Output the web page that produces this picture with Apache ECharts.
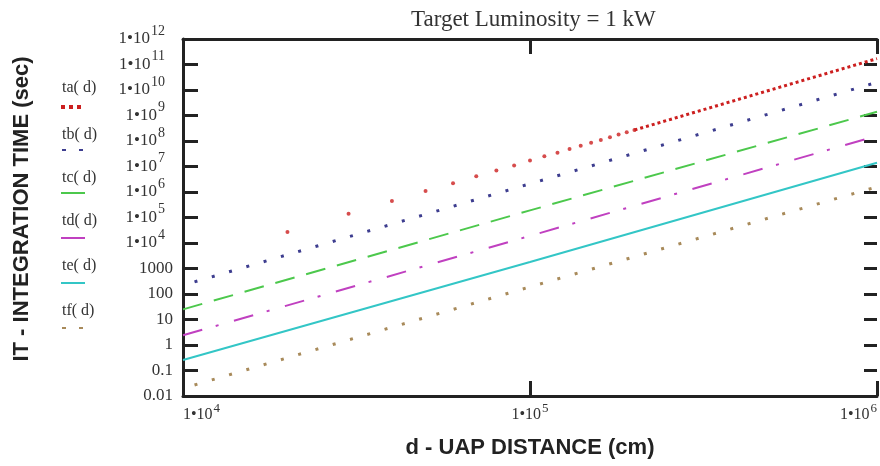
<!DOCTYPE html>
<html>
<head>
<meta charset="utf-8">
<script src="https://cdn.jsdelivr.net/npm/echarts@6/dist/echarts.min.js"></script>
<style>
  html, body { margin: 0; padding: 0; background: #fff; }
  #chart { width: 880px; height: 466px; }
</style>
</head>
<body>
<div id="chart"></div>
<script>
const distance = [1e4, 1e5, 1e6]
// integration time (sec) for each curve
const tb = [220, 2.1e6, 2.0e10]
const tc = [25, 1.9e5, 1.4e9]
const td = [2.4, 1.9e4, 1.6e8]
const te = [0.26, 1.8e3, 1.4e7]
const tf = [0.02, 190, 1.6e6]
// ta: single dots on the left, they get dense to the right
const taDotDistance = [2e4, 3e4, 4e4, 5e4, 6e4, 7e4, 8e4, 9e4, 1e5, 1.1e5, 1.2e5, 1.3e5, 1.4e5, 1.5e5, 1.6e5, 1.7e5, 1.8e5, 1.9e5, 2e5]
const taDotTime = [2.7e4, 1.4e5, 4.4e5, 1.1e6, 2.2e6, 4.1e6, 7.0e6, 1.1e7, 1.7e7, 2.5e7, 3.5e7, 4.9e7, 6.5e7, 8.6e7, 1.1e8, 1.4e8, 1.8e8, 2.2e8, 2.7e8]
const taLineDistance = [2e5, 1e6]
const taLineTime = [2.7e8, 1.7e11]

const xTickLabels = ['1•10^4', '1•10^5', '1•10^6']
const yTickLabels = ['0.01', '0.1', '1', '10', '100', '1000', '1•10^4', '1•10^5', '1•10^6', '1•10^7',
  '1•10^8', '1•10^9', '1•10^10', '1•10^11', '1•10^12']

const serif = '"Liberation Serif", "DejaVu Serif", serif'
const sans = '"Liberation Sans", Arial, sans-serif'
const ink = '#222'
const textInk = '#333'

function pair(xs, ys) {
  return xs.map((x, i) => [x, ys[i]])
}

function powLabel(s) {
  if (s.indexOf('^') < 0) return '{b|' + s + '}'
  let p = s.split('^')
  return '{b|' + p[0] + '}{s|' + p[1] + '}'
}

const xRich = {
  b: { fontFamily: serif, fontSize: 16, color: textInk },
  s: { fontFamily: serif, fontSize: 13, color: textInk, padding: [0, 0, 12, 1] }
}
const yRich = {
  b: { fontFamily: serif, fontSize: 17, color: textInk },
  s: { fontFamily: serif, fontSize: 14, color: textInk, padding: [0, 8, 16, 1] }
}

let chart = echarts.init(document.getElementById('chart'), null, { renderer: 'canvas' })

const frameLine = { onZero: false, lineStyle: { color: ink, width: 3 } }
const frameTick = { inside: true, length: 15, lineStyle: { color: ink, width: 3 } }

let option = {
  animation: false,
  backgroundColor: '#fff',
  title: {
    text: 'Target Luminosity = 1 kW',
    left: 406,
    top: 3,
    textStyle: { fontFamily: serif, fontSize: 23, fontWeight: 'normal', color: textInk }
  },
  grid: { left: 183, top: 39, right: 0, bottom: 70, containLabel: false },
  xAxis: [
    {
      type: 'log', logBase: 10, min: 1e4, max: 1e6, position: 'bottom',
      axisLine: frameLine, axisTick: frameTick, splitLine: { show: false },
      axisLabel: {
        margin: 6, rich: xRich, alignMinLabel: 'left', alignMaxLabel: 'right',
        formatter: v => powLabel(xTickLabels[Math.round(Math.log10(v)) - 4])
      },
      name: 'd - UAP DISTANCE (cm)', nameLocation: 'middle', nameGap: 41,
      nameTextStyle: { fontFamily: sans, fontSize: 22, fontWeight: 'bold', color: ink }
    },
    {
      type: 'log', logBase: 10, min: 1e4, max: 1e6, position: 'top',
      axisLine: frameLine, axisTick: frameTick, axisLabel: { show: false }, splitLine: { show: false }
    }
  ],
  yAxis: [
    { type: 'log', logBase: 10, min: 0.01, max: 1e12, show: false },
    {
      type: 'value', min: -2, max: 12, interval: 1, position: 'left',
      axisLine: frameLine, axisTick: frameTick, splitLine: { show: false },
      axisLabel: { margin: 10, rich: yRich, formatter: v => powLabel(yTickLabels[v + 2]) }
    },
    {
      type: 'value', min: -2, max: 12, interval: 1, position: 'right',
      axisLine: { show: false, onZero: false },
      axisTick: { inside: true, length: 13, lineStyle: { color: ink, width: 3 } },
      axisLabel: { show: false }, splitLine: { show: false }
    }
  ],
  graphic: [
    {
      type: 'text', x: 22, y: 209, rotation: Math.PI / 2,
      style: { text: 'IT - INTEGRATION TIME (sec)', font: 'bold 22px ' + sans, fill: ink, align: 'center', verticalAlign: 'middle' }
    },
    { type: 'text', left: 62, top: 80, style: { text: 'ta( d)', font: '16px ' + serif, fill: textInk } },
    { type: 'line', shape: { x1: 61, y1: 107, x2: 85, y2: 107 }, style: { stroke: '#cc1f1f', lineWidth: 4, lineDash: [4, 4] } },
    { type: 'text', left: 62, top: 127, style: { text: 'tb( d)', font: '16px ' + serif, fill: textInk } },
    { type: 'line', shape: { x1: 62, y1: 150, x2: 85, y2: 150 }, style: { stroke: '#3d3d8f', lineWidth: 2, lineDash: [4, 13] } },
    { type: 'text', left: 62, top: 170, style: { text: 'tc( d)', font: '16px ' + serif, fill: textInk } },
    { type: 'line', shape: { x1: 61, y1: 193, x2: 85, y2: 193 }, style: { stroke: '#4cc84c', lineWidth: 2 } },
    { type: 'text', left: 62, top: 213, style: { text: 'td( d)', font: '16px ' + serif, fill: textInk } },
    { type: 'line', shape: { x1: 61, y1: 238, x2: 85, y2: 238 }, style: { stroke: '#c040c0', lineWidth: 2 } },
    { type: 'text', left: 62, top: 258, style: { text: 'te( d)', font: '16px ' + serif, fill: textInk } },
    { type: 'line', shape: { x1: 61, y1: 283, x2: 85, y2: 283 }, style: { stroke: '#33c6c6', lineWidth: 2 } },
    { type: 'text', left: 62, top: 303, style: { text: 'tf( d)', font: '16px ' + serif, fill: textInk } },
    { type: 'line', shape: { x1: 62, y1: 328, x2: 85, y2: 328 }, style: { stroke: '#a88a5a', lineWidth: 2, lineDash: [4, 13] } }
  ],
  series: [
    {
      name: 'ta(d)', type: 'scatter', xAxisIndex: 0, yAxisIndex: 0,
      data: pair(taDotDistance, taDotTime), symbol: 'circle', symbolSize: 4,
      itemStyle: { color: '#cc1f1f' }, silent: true
    },
    {
      name: 'ta(d)', type: 'line', xAxisIndex: 0, yAxisIndex: 0,
      data: pair(taLineDistance, taLineTime), showSymbol: false,
      lineStyle: { color: '#cc1f1f', width: 3, type: [3, 3] }, silent: true
    },
    {
      name: 'tb(d)', type: 'line', xAxisIndex: 0, yAxisIndex: 0,
      data: pair(distance, tb), showSymbol: false,
      lineStyle: { color: '#3d3d8f', width: 3, type: [3, 15], dashOffset: -12 }, silent: true
    },
    {
      name: 'tc(d)', type: 'line', xAxisIndex: 0, yAxisIndex: 0,
      data: pair(distance, tc), showSymbol: false,
      lineStyle: { color: '#4cc84c', width: 2, type: [20, 12] }, silent: true
    },
    {
      name: 'td(d)', type: 'line', xAxisIndex: 0, yAxisIndex: 0,
      data: pair(distance, td), showSymbol: false,
      lineStyle: { color: '#c040c0', width: 2, type: [20, 14, 3, 16] }, silent: true
    },
    {
      name: 'te(d)', type: 'line', xAxisIndex: 0, yAxisIndex: 0,
      data: pair(distance, te), showSymbol: false,
      lineStyle: { color: '#33c6c6', width: 2 }, silent: true
    },
    {
      name: 'tf(d)', type: 'line', xAxisIndex: 0, yAxisIndex: 0,
      data: pair(distance, tf), showSymbol: false,
      lineStyle: { color: '#a88a5a', width: 3, type: [3, 15], dashOffset: -12 }, silent: true
    }
  ]
}

chart.setOption(option)
</script>
</body>
</html>
